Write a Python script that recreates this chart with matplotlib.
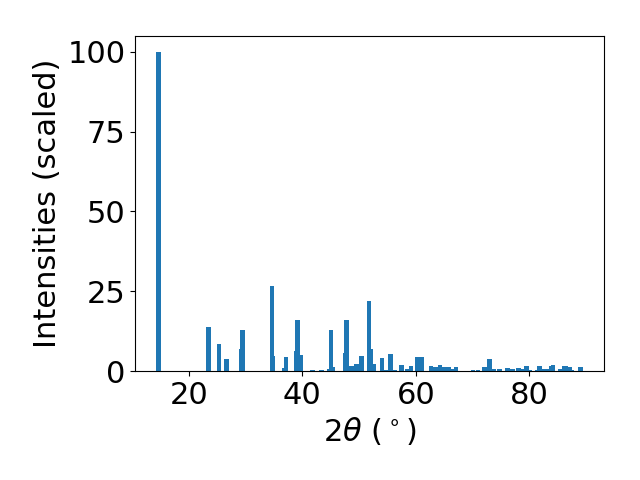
import matplotlib
matplotlib.use("Agg")
from matplotlib import pyplot as plt

# Peak positions (2 theta, degrees) and scaled intensities
two_theta = [
    14.64, 23.40, 25.26, 26.58, 29.20, 29.42, 34.64, 34.80, 36.80, 37.11,
    38.93, 39.15, 39.73, 41.80, 43.40, 44.77, 45.08, 45.30, 47.55, 47.78,
    48.62, 49.50, 50.39, 51.72, 52.10, 52.65, 54.00, 54.80, 55.50, 56.20,
    57.50, 58.57, 59.15, 60.17, 60.97, 62.70, 63.50, 64.24, 65.00, 65.75,
    66.30, 67.10, 70.10, 71.00, 72.07, 72.96, 73.75, 74.73, 76.14, 77.10,
    78.10, 78.66, 79.50, 80.10, 81.40, 81.80, 82.50, 83.10, 83.90, 84.20,
    85.40, 86.10, 86.50, 87.20, 87.50, 89.06,
]
intensity = [
    100.0, 13.8, 8.5, 3.8, 6.9, 12.9, 26.6, 4.7, 1.0, 4.4,
    6.3, 16.0, 5.0, 0.3, 0.3, 0.5, 12.9, 1.2, 5.6, 16.0,
    1.6, 2.2, 4.7, 21.9, 6.9, 2.2, 4.1, 0.3, 5.3, 0.3,
    1.9, 0.6, 1.6, 4.4, 4.4, 1.6, 1.2, 1.9, 1.2, 1.2,
    0.6, 1.2, 0.3, 0.3, 1.2, 3.8, 0.6, 0.6, 0.9, 0.6,
    0.9, 0.6, 1.6, 0.3, 0.3, 1.6, 0.6, 0.6, 1.6, 1.9,
    0.6, 1.6, 1.6, 1.2, 0.3, 1.2,
]

fontsize = 22

fig, ax = plt.subplots(figsize=(6.4, 4.8), dpi=100)
ax.bar(two_theta, intensity, width=0.8)

ax.set_xlabel(r"2$\theta$ ($^\circ$)", fontsize=fontsize)
ax.set_ylabel("Intensities (scaled)", fontsize=fontsize)
ax.tick_params(labelsize=fontsize)
ax.set_yticks([0, 25, 50, 75, 100])

fig.subplots_adjust(left=0.211, right=0.944, top=0.925, bottom=0.227)
fig.savefig("out.png")
